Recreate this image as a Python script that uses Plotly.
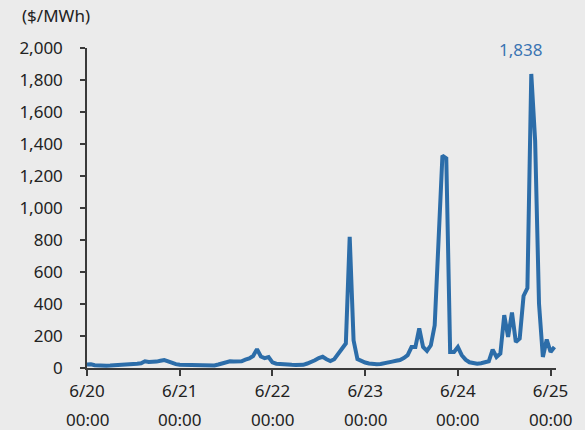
import pandas as pd
import plotly.graph_objects as go

start = "2022-06-20 00:00"
# hourly prices ($/MWh), 6/20 00:00 onward
day_0620 = [22, 23, 17, 14, 13, 14, 15, 16, 16, 17, 18, 21, 24, 27, 30, 42, 38, 38, 40, 45, 50, 42, 32, 24]
day_0621 = [20, 19, 18, 17, 17, 16, 15, 14, 13, 16, 22, 28, 38, 42, 40, 40, 42, 52, 60, 75, 118, 72, 62, 68]
day_0622 = [35, 27, 24, 22, 21, 20, 19, 19, 20, 28, 36, 48, 62, 70, 55, 44, 55, 85, 118, 153, 820, 173, 56, 42]
day_0623 = [34, 28, 24, 23, 25, 28, 33, 40, 45, 50, 62, 80, 131, 131, 247, 131, 107, 142, 267, 850, 1327, 1311, 100, 100]
day_0624 = [131, 80, 52, 36, 30, 27, 30, 36, 42, 115, 69, 90, 330, 194, 347, 163, 184, 450, 500, 1838, 1420, 403, 69, 178]
day_0625 = [100, 131]
prices = day_0620 + day_0621 + day_0622 + day_0623 + day_0624 + day_0625

tick_dates = ["2022-06-20", "2022-06-21", "2022-06-22", "2022-06-23", "2022-06-24", "2022-06-25"]
tick_day = ["6/20", "6/21", "6/22", "6/23", "6/24", "6/25"]
tick_time = ["00:00", "00:00", "00:00", "00:00", "00:00", "00:00"]
y_ticks = [0, 200, 400, 600, 800, 1000, 1200, 1400, 1600, 1800, 2000]
unit_label = "($/MWh)"

times = pd.date_range(start, periods=len(prices), freq="h")
peak_idx = max(range(len(prices)), key=lambda i: prices[i])

FONT = "Noto Sans"
TXT = "#222222"
BLUE = "#2C6DA9"
AX = "#3a3a3a"

fig = go.Figure()
fig.add_trace(go.Scatter(x=times, y=prices, mode="lines",
                         line=dict(color=BLUE, width=4), hoverinfo="skip"))

fig.update_layout(
    width=585, height=430,
    margin=dict(l=87, r=29, t=48, b=62),
    paper_bgcolor="#EBEBEB", plot_bgcolor="#EBEBEB",
    showlegend=False,
    font=dict(family=FONT, size=17, color=TXT),
)
fig.update_xaxes(
    range=[pd.Timestamp(start), pd.Timestamp(start) + pd.Timedelta(hours=121.4)],
    tickvals=tick_dates, ticktext=tick_day,
    showgrid=False, zeroline=False,
    showline=True, linecolor=AX, linewidth=1.5,
    ticks="outside", ticklen=6, tickcolor=AX, tickwidth=1.5,
    ticklabelstandoff=1,
    tickfont=dict(family=FONT, size=17, color=TXT),
)
fig.update_yaxes(
    range=[0, 2000], tickvals=y_ticks, tickformat=",d",
    showgrid=False, zeroline=False,
    showline=True, linecolor=AX, linewidth=1.5,
    ticks="outside", ticklen=5, tickcolor=AX, tickwidth=1.5,
    ticklabelstandoff=14,
    tickfont=dict(family=FONT, size=17, color=TXT),
)

for d, t in zip(tick_dates, tick_time):
    fig.add_annotation(x=d, y=-0.16, xref="x", yref="paper", text=t,
                       showarrow=False, xanchor="center", yanchor="middle",
                       font=dict(family=FONT, size=17, color=TXT))

fig.add_annotation(x=-0.143, y=1.1, xref="paper", yref="paper", text=unit_label,
                   showarrow=False, xanchor="left", yanchor="middle",
                   font=dict(family=FONT, size=17, color=TXT))

fig.add_annotation(x=times[peak_idx], y=prices[peak_idx], xref="x", yref="y",
                   text=f"{prices[peak_idx]:,}", showarrow=False,
                   xanchor="center", yanchor="middle", xshift=-11, yshift=24,
                   font=dict(family=FONT, size=17, color="#3A74B2"))

fig.write_html("out.html", config={"displayModeBar": False},
               post_script="document.body.style.margin='0px';document.body.style.background='#EBEBEB';")
